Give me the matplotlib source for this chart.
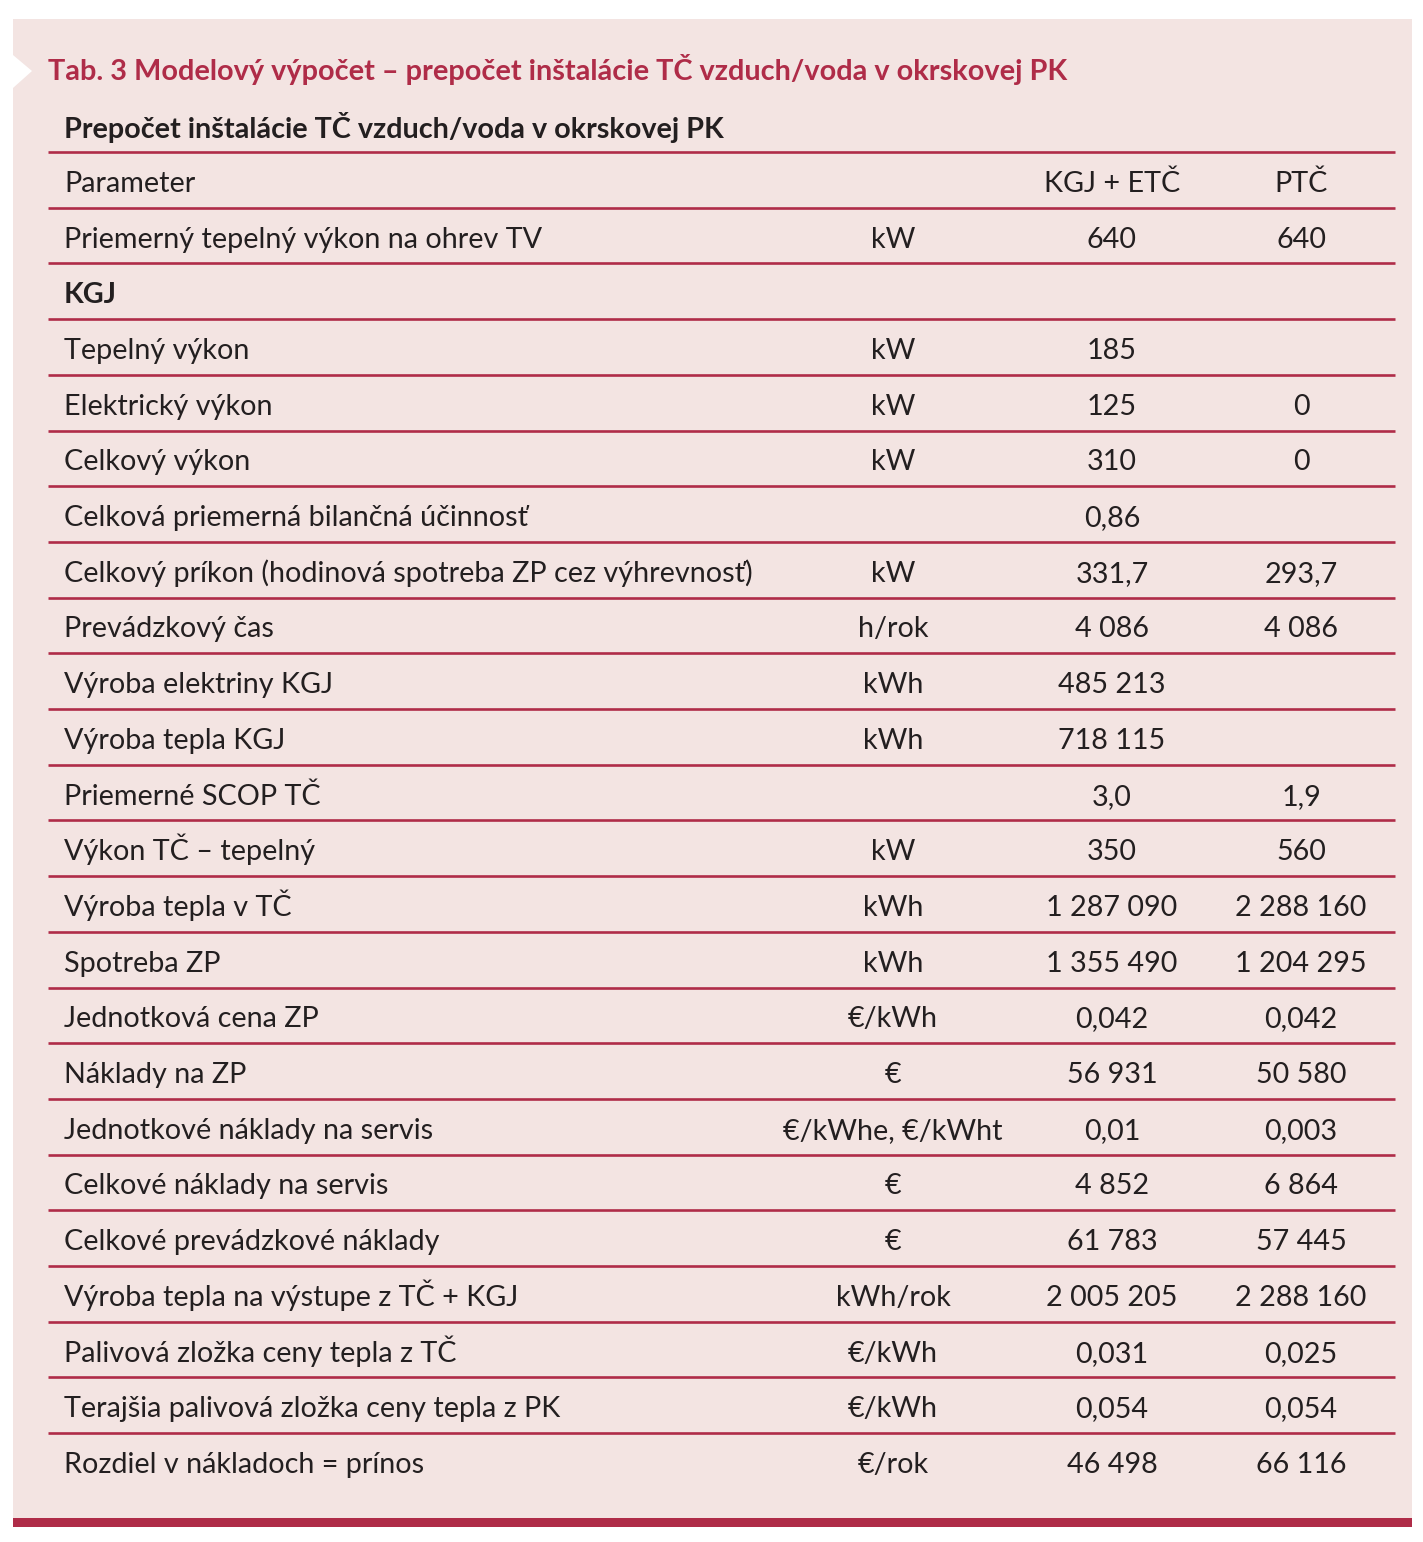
import matplotlib
matplotlib.use("Agg")
import matplotlib.pyplot as plt
from matplotlib.patches import Rectangle, Polygon

FONT = ['Lato', 'DejaVu Sans']
plt.rcParams['font.family'] = FONT

TITLE = "Tab. 3 Modelový výpočet – prepočet inštalácie TČ vzduch/voda v okrskovej PK"
SUBTITLE = "Prepočet inštalácie TČ vzduch/voda v okrskovej PK"
header = ["Parameter", "", "KGJ + ETČ", "PTČ"]

labels = [
    "Priemerný tepelný výkon na ohrev TV", "KGJ", "Tepelný výkon", "Elektrický výkon",
    "Celkový výkon", "Celková priemerná bilančná účinnosť",
    "Celkový príkon (hodinová spotreba ZP cez výhrevnosť)", "Prevádzkový čas",
    "Výroba elektriny KGJ", "Výroba tepla KGJ", "Priemerné SCOP TČ", "Výkon TČ – tepelný",
    "Výroba tepla v TČ", "Spotreba ZP", "Jednotková cena ZP", "Náklady na ZP",
    "Jednotkové náklady na servis", "Celkové náklady na servis", "Celkové prevádzkové náklady",
    "Výroba tepla na výstupe z TČ + KGJ", "Palivová zložka ceny tepla z TČ",
    "Terajšia palivová zložka ceny tepla z PK", "Rozdiel v nákladoch = prínos",
]
units = ["kW", "", "kW", "kW", "kW", "", "kW", "h/rok", "kWh", "kWh", "", "kW", "kWh", "kWh",
         "€/kWh", "€", "€/kWhe, €/kWht", "€", "€", "kWh/rok", "€/kWh", "€/kWh", "€/rok"]
kgj_etc = ["640", "", "185", "125", "310", "0,86", "331,7", "4 086", "485 213", "718 115",
           "3,0", "350", "1 287 090", "1 355 490", "0,042", "56 931", "0,01", "4 852",
           "61 783", "2 005 205", "0,031", "0,054", "46 498"]
ptc = ["640", "", "", "0", "0", "", "293,7", "4 086", "", "", "1,9", "560", "2 288 160",
       "1 204 295", "0,042", "50 580", "0,003", "6 864", "57 445", "2 288 160", "0,025",
       "0,054", "66 116"]
bold_rows = ["KGJ"]

BG = "#f3e4e2"
RED = "#af2c48"
TXT = "#231f20"

W, H = 1423, 1542
fig = plt.figure(figsize=(W / 100, H / 100), dpi=100)
ax = fig.add_axes([0, 0, 1, 1])
ax.set_xlim(0, W)
ax.set_ylim(H, 0)
ax.axis("off")

# background panel, notch and bottom bar
ax.add_patch(Rectangle((13, 19), 1399, 1499, facecolor=BG, edgecolor="none"))
ax.add_patch(Polygon([(13, 55), (32, 71), (13, 88)], closed=True, facecolor="white", edgecolor="none"))
ax.add_patch(Rectangle((13, 1518), 1399, 9, facecolor=RED, edgecolor="none"))

fig.canvas.draw()
renderer = fig.canvas.get_renderer()


def fit(text, width, weight="normal"):
    t = ax.text(0, 0, text, fontsize=20, fontweight=weight)
    w = t.get_window_extent(renderer).width
    t.remove()
    return 20 * width / w


fs = fit("Celkový príkon (hodinová spotreba ZP cez výhrevnosť)", 688)
fs_title = fit(TITLE, 1019, "bold")
fs_sub = fit(SUBTITLE, 659, "bold")

ax.text(48, 80, TITLE, fontsize=fs_title, fontweight="bold", color=RED, va="baseline")
ax.text(64, 138, SUBTITLE, fontsize=fs_sub, fontweight="bold", color=TXT, va="baseline")

x_label, x_unit, x_c1, x_c2 = 64, 893, 1112, 1301
top, step = 152, 55.7
rows = [header] + [list(r) for r in zip(labels, units, kgj_etc, ptc)]
line_y = [top + step * i for i in range(len(rows))]
ax.hlines(line_y, 48, 1395, color=RED, linewidth=1.9)

for i, (lab, un, v1, v2) in enumerate(rows):
    y = top + step * (i + 0.5) + 12
    wt = "bold" if lab in bold_rows else "normal"
    ax.text(x_label, y, lab, fontsize=fs, fontweight=wt, color=TXT, va="baseline")
    ax.text(x_unit, y, un, fontsize=fs, color=TXT, ha="center", va="baseline")
    ax.text(x_c1, y, v1, fontsize=fs, color=TXT, ha="center", va="baseline")
    ax.text(x_c2, y, v2, fontsize=fs, color=TXT, ha="center", va="baseline")

fig.savefig("out.png", dpi=100, facecolor="white")
